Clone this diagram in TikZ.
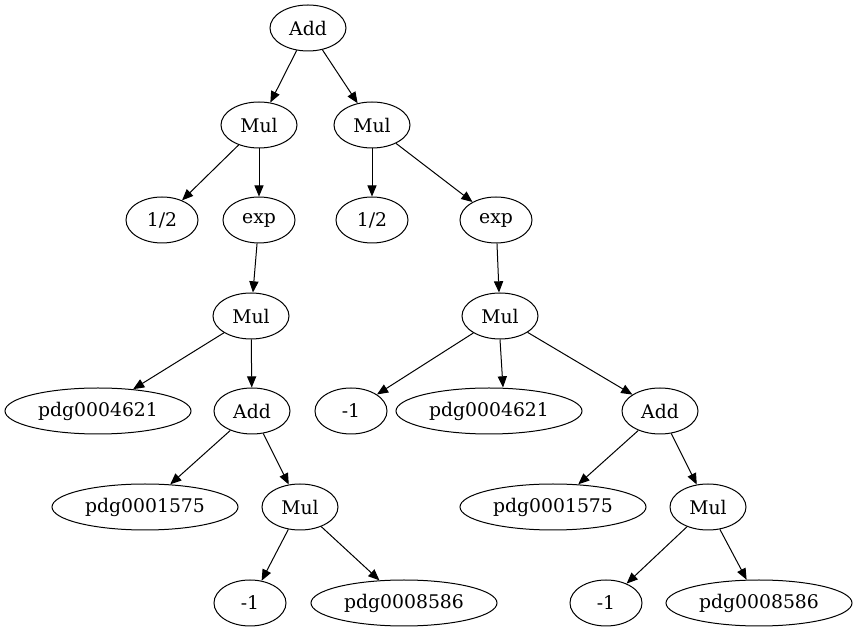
\documentclass[tikz,border=0pt]{standalone}
\usepackage{fontspec}
\setmainfont{DejaVu Serif}
\usetikzlibrary{arrows.meta, shapes.geometric}
\tikzset{
  gnode/.style={ellipse, draw, line width=0.5pt, inner sep=0pt, minimum height=23pt, font=\fontsize{9.4}{11}\selectfont},
  opnode/.style={gnode, minimum width=38pt},
  numnode/.style={gnode, minimum width=36pt},
  varnode/.style={gnode, minimum width=93pt},
  edge/.style={-{Triangle[length=5.6pt, width=4.6pt]}, line width=0.5pt}
}

\begin{document}
\begin{tikzpicture}[x=0.5pt, y=-0.5pt]
\useasboundingbox (0,0) rectangle (857,635);
% top
\node[opnode] (add0) at (308,28) {Add};
\node[opnode] (mulA) at (259,125) {Mul};
\node[opnode] (mulB) at (372,125) {Mul};
% left branch
\node[numnode] (halfA) at (162,220) {1/2};
\node[numnode] (expA) at (259,220) {exp};
\node[opnode] (mulA2) at (251,316) {Mul};
\node[varnode] (pA4621) at (98,411) {pdg0004621};
\node[opnode] (addA) at (252,411) {Add};
\node[varnode] (pA1575) at (145,507) {pdg0001575};
\node[opnode] (mulA3) at (300,507) {Mul};
\node[numnode] (mA1) at (250,603) {-1};
\node[varnode] (pA8586) at (404,603) {pdg0008586};
% right branch
\node[numnode] (halfB) at (372,220) {1/2};
\node[numnode] (expB) at (496,220) {exp};
\node[opnode] (mulB2) at (500,316) {Mul};
\node[numnode] (mB1) at (351,411) {-1};
\node[varnode] (pB4621) at (489,411) {pdg0004621};
\node[opnode] (addB) at (660,411) {Add};
\node[varnode] (pB1575) at (553,507) {pdg0001575};
\node[opnode] (mulB3) at (708,507) {Mul};
\node[numnode] (mB2) at (606,603) {-1};
\node[varnode] (pB8586) at (759,603) {pdg0008586};

\draw[edge] (add0) -- (mulA);
\draw[edge] (add0) -- (mulB);
\draw[edge] (mulA) -- (halfA);
\draw[edge] (mulA) -- (expA);
\draw[edge] (expA) -- (mulA2);
\draw[edge] (mulA2) -- (pA4621);
\draw[edge] (mulA2) -- (addA);
\draw[edge] (addA) -- (pA1575);
\draw[edge] (addA) -- (mulA3);
\draw[edge] (mulA3) -- (mA1);
\draw[edge] (mulA3) -- (pA8586);
\draw[edge] (mulB) -- (halfB);
\draw[edge] (mulB) -- (expB);
\draw[edge] (expB) -- (mulB2);
\draw[edge] (mulB2) -- (mB1);
\draw[edge] (mulB2.south) -- ([xshift=1.5pt]pB4621.north -| mulB2.south);
\draw[edge] (mulB2) -- (addB);
\draw[edge] (addB) -- (pB1575);
\draw[edge] (addB) -- (mulB3);
\draw[edge] (mulB3) -- (mB2);
\draw[edge] (mulB3) -- (pB8586);
\end{tikzpicture}
\end{document}
